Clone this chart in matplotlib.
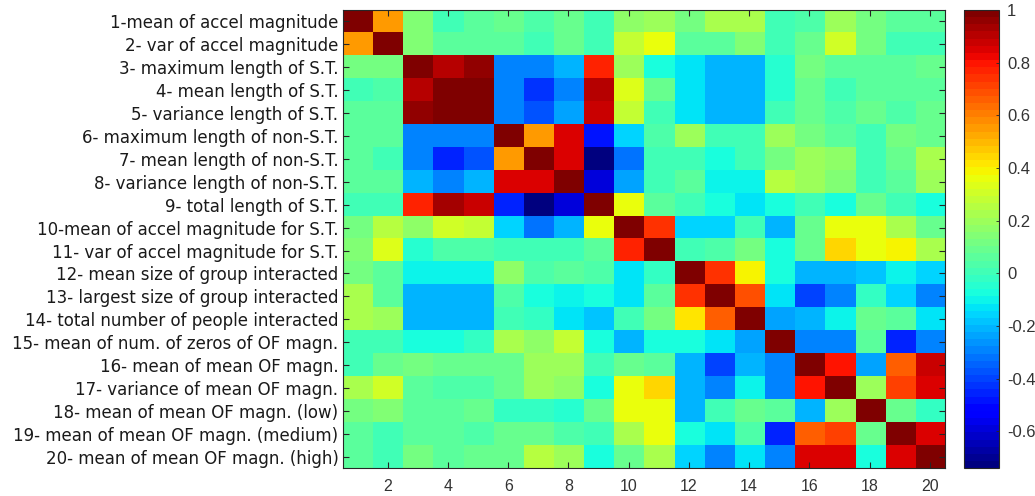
import numpy as np
import matplotlib.pyplot as plt

# feature names (rows / columns of the correlation matrix)
features = [
    "1-mean of accel magnitude",
    "2- var of accel magnitude",
    "3- maximum length of S.T.",
    "4- mean length of S.T.",
    "5- variance length of S.T.",
    "6- maximum length of non-S.T.",
    "7- mean length of non-S.T.",
    "8- variance length of non-S.T.",
    "9- total length of S.T.",
    "10-mean of accel magnitude for S.T.",
    "11- var of accel magnitude for S.T.",
    "12- mean size of group interacted",
    "13- largest size of group interacted",
    "14- total number of people interacted",
    "15- mean of num. of zeros of OF magn.",
    "16- mean of mean OF magn.",
    "17- variance of mean OF magn.",
    "18- mean of mean OF magn. (low)",
    "19- mean of mean OF magn. (medium)",
    "20- mean of mean OF magn. (high)",
]

# correlation values, one row per feature
r01 = [1.00, 0.55, 0.15, 0.00, 0.05, 0.08, 0.03, 0.10, 0.00, 0.17, 0.20, 0.12, 0.22, 0.22, 0.00, 0.03, 0.20, 0.12, 0.05, 0.05]
r02 = [0.55, 1.00, 0.13, 0.05, 0.05, 0.05, 0.02, 0.10, 0.02, 0.27, 0.35, 0.05, 0.05, 0.15, 0.00, 0.10, 0.30, 0.12, 0.00, 0.00]
r03 = [0.12, 0.12, 1.00, 0.90, 0.95, -0.30, -0.30, -0.20, 0.78, 0.20, -0.08, -0.12, -0.20, -0.20, -0.05, 0.12, 0.05, 0.05, 0.05, 0.10]
r04 = [0.00, 0.03, 0.90, 1.00, 1.00, -0.30, -0.42, -0.30, 0.90, 0.33, 0.08, -0.12, -0.20, -0.20, -0.05, 0.10, 0.02, 0.05, 0.05, 0.05]
r05 = [0.05, 0.05, 0.95, 1.00, 1.00, -0.30, -0.36, -0.25, 0.88, 0.27, 0.02, -0.12, -0.20, -0.20, 0.00, 0.10, 0.03, 0.10, 0.03, 0.10]
r06 = [0.07, 0.05, -0.30, -0.30, -0.30, 1.00, 0.55, 0.85, -0.48, -0.15, 0.03, 0.20, 0.02, 0.02, 0.20, 0.12, 0.07, 0.00, 0.12, 0.10]
r07 = [0.05, 0.02, -0.30, -0.45, -0.36, 0.55, 1.00, 0.85, -0.74, -0.33, 0.02, 0.02, -0.08, 0.00, 0.12, 0.20, 0.18, 0.02, 0.10, 0.22]
r08 = [0.07, 0.07, -0.20, -0.28, -0.22, 0.85, 0.85, 1.00, -0.60, -0.25, 0.02, 0.05, -0.10, -0.10, 0.25, 0.20, 0.15, 0.00, 0.05, 0.20]
r09 = [0.00, 0.02, 0.78, 0.92, 0.88, -0.45, -0.74, -0.60, 1.00, 0.35, 0.05, 0.00, -0.08, -0.13, -0.08, 0.00, -0.08, 0.10, 0.00, -0.08]
r10 = [0.12, 0.25, 0.18, 0.32, 0.27, -0.15, -0.33, -0.22, 0.35, 1.00, 0.75, -0.15, -0.15, 0.00, -0.20, 0.10, 0.35, 0.35, 0.22, 0.10]
r11 = [0.15, 0.33, -0.05, 0.03, 0.03, 0.02, 0.00, 0.00, 0.05, 0.78, 1.00, 0.00, 0.03, 0.12, -0.08, 0.08, 0.45, 0.35, 0.38, 0.22]
r12 = [0.12, 0.07, -0.10, -0.10, -0.10, 0.18, 0.03, 0.05, 0.03, -0.13, -0.03, 1.00, 0.75, 0.40, -0.08, -0.20, -0.20, -0.18, -0.10, -0.15]
r13 = [0.22, 0.05, -0.20, -0.20, -0.20, 0.03, -0.08, -0.10, -0.08, -0.13, 0.05, 0.75, 1.00, 0.68, -0.12, -0.40, -0.28, -0.03, -0.15, -0.30]
r14 = [0.22, 0.20, -0.20, -0.20, -0.20, 0.02, -0.03, -0.13, -0.18, 0.02, 0.12, 0.42, 0.65, 1.00, -0.25, -0.20, -0.10, 0.10, 0.05, -0.13]
r15 = [0.00, 0.00, -0.08, -0.08, -0.03, 0.22, 0.18, 0.27, -0.08, -0.20, -0.08, -0.08, -0.12, -0.25, 1.00, -0.30, -0.30, 0.05, -0.45, -0.30]
r16 = [0.02, 0.10, 0.12, 0.08, 0.08, 0.10, 0.20, 0.20, 0.00, 0.10, 0.07, -0.22, -0.40, -0.22, -0.30, 1.00, 0.80, -0.25, 0.65, 0.88]
r17 = [0.22, 0.30, 0.07, 0.03, 0.03, 0.08, 0.20, 0.17, -0.08, 0.35, 0.45, -0.22, -0.30, -0.10, -0.30, 0.80, 1.00, 0.20, 0.72, 0.85]
r18 = [0.12, 0.15, 0.05, 0.05, 0.08, -0.02, -0.02, -0.05, 0.10, 0.35, 0.35, -0.20, 0.00, 0.10, 0.05, -0.22, 0.20, 1.00, 0.08, -0.02]
r19 = [0.05, 0.02, 0.05, 0.05, 0.03, 0.10, 0.08, 0.03, 0.02, 0.22, 0.35, -0.08, -0.13, 0.03, -0.45, 0.65, 0.72, 0.10, 1.00, 0.85]
r20 = [0.05, 0.02, 0.12, 0.05, 0.08, 0.10, 0.25, 0.20, -0.08, 0.10, 0.22, -0.15, -0.30, -0.12, -0.30, 0.85, 0.85, -0.08, 0.85, 1.00]

corr = np.array([r01, r02, r03, r04, r05, r06, r07, r08, r09, r10,
                 r11, r12, r13, r14, r15, r16, r17, r18, r19, r20])
n = len(features)

fig = plt.figure(figsize=(10.35, 4.96), dpi=100)
ax = fig.add_axes([0.331, 0.056, 0.582, 0.924])
cax = fig.add_axes([0.931, 0.056, 0.034, 0.924])

im = ax.imshow(corr, cmap=plt.get_cmap('jet', 64), vmin=corr.min(), vmax=1,
               aspect='auto', interpolation='nearest',
               extent=[0.5, n + 0.5, n + 0.5, 0.5])

ax.set_xticks(range(2, n + 1, 2))
ax.set_yticks(range(1, n + 1))
ax.set_yticklabels(features, fontsize=12, family='DejaVu Sans', color='#1a1a1a')
ax.set_xticklabels([str(v) for v in range(2, n + 1, 2)],
                   fontsize=11.5, family='Liberation Sans', color='#333333')
ax.tick_params(direction='in', top=True, right=True,
               length=4, width=0.8, color='#262626')
ax.tick_params(axis='y', pad=3)
ax.tick_params(axis='x', pad=8)
for s in ax.spines.values():
    s.set_color('#262626')
    s.set_linewidth(0.8)

cb = fig.colorbar(im, cax=cax)
cb.set_ticks([-0.6, -0.4, -0.2, 0, 0.2, 0.4, 0.6, 0.8, 1])
cb.set_ticklabels(['-0.6', '-0.4', '-0.2', '0', '0.2', '0.4', '0.6', '0.8', '1'])
cb.ax.tick_params(direction='in', length=2, width=0.6, color='#262626', pad=6)
for t in cb.ax.get_yticklabels():
    t.set_fontsize(12)
    t.set_family('Liberation Sans')
    t.set_color('#333333')
cb.outline.set_edgecolor('#262626')
cb.outline.set_linewidth(0.8)

fig.savefig('out.png', dpi=100)
